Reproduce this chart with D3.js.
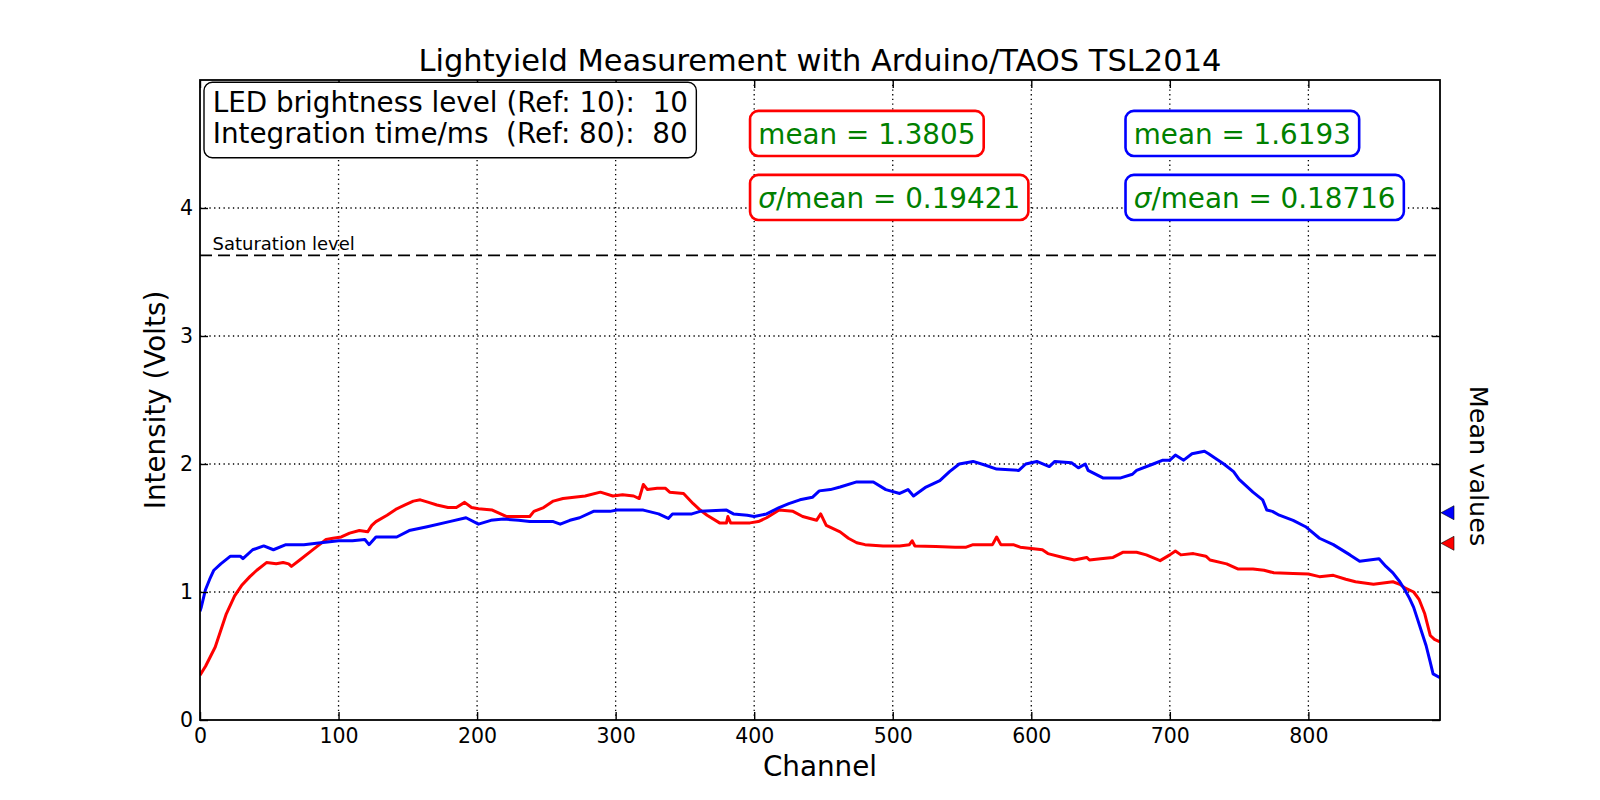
<!DOCTYPE html>
<html>
<head>
<meta charset="utf-8">
<script src="https://cdnjs.cloudflare.com/ajax/libs/d3/7.8.5/d3.min.js"></script>
<style>
    body { margin: 0; background: #fff; }
    svg text { font-family: "DejaVu Sans", sans-serif; }
</style>
</head>
<body>
<svg id="chart" width="1600" height="800"></svg>
<script>
// [channel, volts]
var redTrace = [[0,0.35],[4,0.42],[11,0.57],[19,0.83],[25,0.97],[30,1.05],[36,1.12],[41,1.17],[48,1.23],[55,1.22],[60,1.23],[64,1.22],[66,1.20],[72,1.25],[79,1.31],[85,1.36],[91,1.41],[96,1.42],[102,1.43],[108,1.46],[115,1.48],[121,1.47],[124,1.52],[127,1.55],[135,1.60],[142,1.65],[148,1.68],[154,1.71],[159,1.72],[165,1.70],[171,1.68],[179,1.66],[185,1.66],[191,1.70],[196,1.66],[201,1.65],[211,1.64],[221,1.59],[230,1.59],[238,1.59],[241,1.63],[248,1.66],[255,1.71],[262,1.73],[270,1.74],[278,1.75],[289,1.78],[298,1.75],[305,1.76],[313,1.75],[317,1.73],[320,1.84],[323,1.80],[330,1.81],[336,1.81],[339,1.78],[349,1.77],[356,1.69],[361,1.64],[366,1.60],[375,1.54],[380,1.54],[381,1.59],[383,1.54],[397,1.54],[403,1.55],[409,1.58],[418,1.64],[428,1.63],[435,1.59],[445,1.56],[448,1.61],[452,1.52],[462,1.47],[468,1.42],[474,1.385],[480,1.37],[493,1.36],[505,1.36],[512,1.37],[514,1.40],[516,1.36],[531,1.355],[545,1.35],[553,1.35],[558,1.37],[572,1.37],[575,1.43],[578,1.37],[587,1.37],[592,1.35],[600,1.34],[608,1.33],[612,1.30],[623,1.27],[631,1.25],[640,1.27],[642,1.25],[650,1.26],[659,1.27],[666,1.31],[676,1.31],[683,1.29],[693,1.245],[700,1.29],[704,1.32],[708,1.29],[717,1.30],[726,1.28],[729,1.25],[741,1.22],[749,1.18],[760,1.18],[768,1.17],[775,1.15],[789,1.145],[800,1.14],[808,1.12],[818,1.13],[827,1.10],[834,1.08],[847,1.06],[861,1.08],[866,1.06],[870,1.03],[876,1.00],[880,0.94],[884,0.83],[888,0.66],[891,0.63],[895,0.61]];

var blueTrace = [[0,0.85],[1,0.885],[4,1.02],[7,1.10],[10,1.17],[15,1.22],[22,1.28],[29,1.28],[31,1.26],[38,1.33],[46,1.36],[53,1.33],[62,1.37],[75,1.37],[84,1.38],[100,1.40],[110,1.40],[119,1.41],[122,1.37],[127,1.43],[142,1.43],[151,1.48],[164,1.51],[180,1.55],[192,1.58],[201,1.53],[210,1.56],[219,1.57],[230,1.56],[238,1.55],[255,1.55],[260,1.53],[267,1.56],[274,1.58],[284,1.63],[296,1.63],[301,1.64],[320,1.64],[331,1.61],[338,1.575],[341,1.61],[355,1.61],[361,1.63],[380,1.64],[385,1.61],[395,1.60],[400,1.59],[409,1.61],[418,1.66],[425,1.69],[433,1.72],[442,1.74],[447,1.79],[455,1.80],[462,1.82],[474,1.86],[486,1.86],[495,1.80],[505,1.77],[511,1.80],[515,1.75],[524,1.82],[534,1.87],[541,1.94],[548,2.00],[558,2.02],[567,1.99],[575,1.96],[591,1.95],[596,2.00],[604,2.02],[613,1.98],[617,2.02],[629,2.01],[634,1.97],[639,2.00],[641,1.95],[652,1.89],[664,1.89],[673,1.92],[676,1.95],[688,2.00],[695,2.03],[700,2.03],[704,2.07],[710,2.03],[716,2.08],[725,2.10],[728,2.08],[732,2.05],[739,2.00],[746,1.94],[750,1.88],[760,1.78],[767,1.72],[770,1.64],[774,1.63],[779,1.60],[789,1.56],[798,1.51],[808,1.42],[818,1.37],[830,1.29],[837,1.24],[844,1.25],[851,1.26],[856,1.20],[861,1.15],[866,1.08],[870,1.01],[873,0.95],[876,0.88],[879,0.78],[882,0.68],[885,0.58],[888,0.45],[890,0.36],[895,0.33]];

var xTickValues = [0, 100, 200, 300, 400, 500, 600, 700, 800];
var yTickValues = [0, 1, 2, 3, 4];
var seriesColors = ['red', 'blue'];
var meanValues = [1.3805, 1.6193];
var sigmaOverMean = [0.19421, 0.18716];
var saturationLevel = 3.63;
var infoLines = ['LED brightness level (Ref: 10):  10', 'Integration time/ms  (Ref: 80):  80'];

(function () {
    var margin = {left: 200, right: 160, top: 80, bottom: 80};
    var width = 1600 - margin.left - margin.right;
    var height = 800 - margin.top - margin.bottom;

    var svg = d3.select('#chart');
    var g = svg.append('g').attr('transform', 'translate(' + margin.left + ',' + margin.top + ')');

    var x = d3.scaleLinear().domain([0, 895]).range([0, width]);
    var y = d3.scaleLinear().domain([0, 5]).range([height, 0]);

    svg.append('defs').append('clipPath').attr('id', 'plotClip')
        .append('rect').attr('width', width).attr('height', height);

    // dotted grid
    g.selectAll('line.gx').data(xTickValues.filter(function (d) { return d > 0; }))
        .enter().append('line').attr('class', 'gx')
        .attr('x1', function (d) { return x(d); }).attr('x2', function (d) { return x(d); })
        .attr('y1', 0).attr('y2', height);
    g.selectAll('line.gy').data(yTickValues.filter(function (d) { return d > 0; }))
        .enter().append('line').attr('class', 'gy')
        .attr('y1', function (d) { return y(d); }).attr('y2', function (d) { return y(d); })
        .attr('x1', 0).attr('x2', width);
    g.selectAll('line.gx, line.gy')
        .attr('stroke', '#000').attr('stroke-width', 1.3).attr('stroke-dasharray', '1.3,3.4');

    // saturation level
    g.append('line')
        .attr('x1', 0).attr('x2', width)
        .attr('y1', y(saturationLevel)).attr('y2', y(saturationLevel))
        .attr('stroke', '#000').attr('stroke-width', 1.8).attr('stroke-dasharray', '12,6');
    g.append('text')
        .attr('x', x(9)).attr('y', y(saturationLevel) - 5)
        .attr('font-size', '18px').text('Saturation level');

    var line = d3.line()
        .x(function (d) { return x(d[0]); })
        .y(function (d) { return y(d[1]); });

    [redTrace, blueTrace].forEach(function (trace, i) {
        g.append('path').datum(trace)
            .attr('clip-path', 'url(#plotClip)')
            .attr('fill', 'none')
            .attr('stroke', seriesColors[i])
            .attr('stroke-width', 3)
            .attr('stroke-linejoin', 'round')
            .attr('d', line);
    });

    // axes, ticks pointing inward
    var fmt = d3.format('d');
    var xAxis = g.append('g').attr('transform', 'translate(0,' + height + ')')
        .call(d3.axisBottom(x).tickValues(xTickValues).tickFormat(fmt).tickSizeInner(-8).tickSizeOuter(0).tickPadding(8));
    var yAxis = g.append('g')
        .call(d3.axisLeft(y).tickValues(yTickValues).tickFormat(fmt).tickSizeInner(-8).tickSizeOuter(0).tickPadding(7));
    var topAxis = g.append('g')
        .call(d3.axisTop(x).tickValues(xTickValues).tickSizeInner(-8).tickSizeOuter(0).tickFormat(''));
    var rightAxis = g.append('g').attr('transform', 'translate(' + width + ',0)')
        .call(d3.axisRight(y).tickValues(yTickValues).tickSizeInner(-8).tickSizeOuter(0).tickFormat(''));
    [xAxis, yAxis, topAxis, rightAxis].forEach(function (a) {
        a.select('.domain').remove();
        a.selectAll('line').attr('stroke', '#000').attr('stroke-width', 1.4);
        a.selectAll('text').attr('font-size', '20.5px').attr('fill', '#000')
            .attr('font-family', '"DejaVu Sans", sans-serif');
    });

    g.append('rect').attr('width', width).attr('height', height)
        .attr('fill', 'none').attr('stroke', '#000').attr('stroke-width', 1.8);

    // mean markers outside the right spine
    g.selectAll('path.meanMark').data(meanValues).enter().append('path')
        .attr('class', 'meanMark')
        .attr('d', function (d) {
            var yy = y(d);
            return 'M' + (width + 1) + ',' + yy + 'L' + (width + 14) + ',' + (yy - 7) + 'L' + (width + 14) + ',' + (yy + 7) + 'Z';
        })
        .attr('fill', function (d, i) { return seriesColors[i]; })
        .attr('stroke', '#000').attr('stroke-width', 0.6);

    // labels
    svg.append('text').attr('x', margin.left + width / 2).attr('y', 71)
        .attr('text-anchor', 'middle').attr('font-size', '30.5px')
        .text('Lightyield Measurement with Arduino/TAOS TSL2014');
    svg.append('text').attr('x', margin.left + width / 2).attr('y', 776)
        .attr('text-anchor', 'middle').attr('font-size', '27.8px').text('Channel');
    svg.append('text').attr('transform', 'translate(165,' + (margin.top + height / 2) + ') rotate(-90)')
        .attr('text-anchor', 'middle').attr('font-size', '27.8px').text('Intensity (Volts)');
    svg.append('text').attr('transform', 'translate(1470,466) rotate(90)')
        .attr('text-anchor', 'middle').attr('font-size', '25.5px').text('Mean values');

    function roundBox(parent, textSel, stroke, sw) {
        var bb = textSel.node().getBBox();
        var fs = parseFloat(textSel.attr('font-size'));
        var base = parseFloat(textSel.attr('y'));
        parent.insert('rect', function () { return textSel.node(); })
            .attr('x', bb.x - 8.3).attr('width', bb.width + 16.6)
            .attr('y', base - fs * 1.19).attr('height', fs * 1.62)
            .attr('rx', 8.3).attr('ry', 8.3)
            .attr('fill', '#fff').attr('stroke', stroke).attr('stroke-width', sw);
    }

    // info box
    var infoG = svg.append('g');
    var infoRect = infoG.append('rect');
    var infoText = infoG.append('text').attr('font-size', '27.8px').attr('xml:space', 'preserve')
        .style('white-space', 'pre');
    infoText.selectAll('tspan').data(infoLines).enter().append('tspan')
        .attr('x', 212.7).attr('y', function (d, i) { return 112.3 + i * 31; })
        .text(function (d) { return d; });
    var ib = infoText.node().getBBox();
    infoRect.attr('x', 204).attr('y', 82.3).attr('width', ib.x + ib.width + 8.3 - 204).attr('height', 75.4)
        .attr('rx', 8.3).attr('ry', 8.3)
        .attr('fill', '#fff').attr('stroke', '#000').attr('stroke-width', 1.4);

    // stats boxes
    var statX = [403, 674];
    meanValues.forEach(function (m, i) {
        var sg = svg.append('g');
        var t1 = sg.append('text').attr('x', margin.left + x(statX[i])).attr('y', margin.top + y(4.5))
            .attr('font-size', '27.8px').attr('fill', 'green')
            .text('mean = ' + m);
        roundBox(sg, t1, seriesColors[i], 2.6);
        var t2 = sg.append('text').attr('x', margin.left + x(statX[i])).attr('y', margin.top + y(4.0))
            .attr('font-size', '27.8px').attr('fill', 'green');
        t2.append('tspan').attr('font-style', 'italic').text('\u03c3');
        t2.append('tspan').text('/mean = ' + sigmaOverMean[i]);
        roundBox(sg, t2, seriesColors[i], 2.6);
    });
})();
</script>
</body>
</html>
